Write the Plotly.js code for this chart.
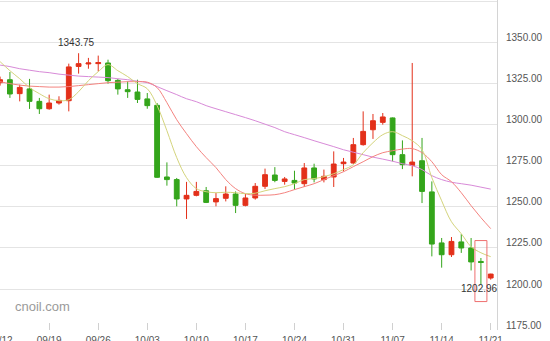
<!DOCTYPE html>
<html>
<head>
<meta charset="utf-8">
<script src="https://cdn.plot.ly/plotly-3.0.1.min.js"></script>
<style>html,body{margin:0;padding:0;background:#fff;}#chart{width:550px;height:341px;}</style>
</head>
<body>
<div id="chart"></div>
<script>
// Trading days (MM/DD)
const dates = ['09/12','09/13','09/14','09/15','09/16','09/19','09/20','09/21','09/22','09/23',
  '09/26','09/27','09/28','09/29','09/30','10/03','10/04','10/05','10/06','10/07',
  '10/10','10/11','10/12','10/13','10/14','10/17','10/18','10/19','10/20','10/21',
  '10/24','10/25','10/26','10/27','10/28','10/31','11/01','11/02','11/03','11/04',
  '11/07','11/08','11/09','11/10','11/11','11/14','11/15','11/16','11/17','11/18','11/21'];
const openP = [1325.8,1327.6,1319.1,1322.0,1314.4,1309.9,1313.4,1314.8,1335.7,1337.2,
  1337.4,1337.8,1327.2,1321.5,1320.1,1315.9,1312.0,1268.3,1266.7,1254.9,
  1257.1,1259.9,1253.1,1255.3,1257.9,1251.0,1255.5,1262.6,1269.5,1265.6,
  1266.2,1264.2,1273.8,1266.7,1268.3,1276.4,1276.8,1288.0,1297.1,1301.6,
  1304.3,1281.9,1275.4,1278.2,1259.2,1228.1,1220.9,1228.7,1225.0,1216.8,1206.7];
const highP = [1329.5,1332.3,1324.6,1328.1,1316.5,1318.5,1317.5,1337.4,1343.75,1340.9,
  1342.3,1339.8,1328.1,1326.6,1327.6,1319.5,1313.4,1277.2,1267.7,1265.3,
  1265.3,1262.2,1258.5,1262.6,1259.5,1257.9,1264.6,1273.4,1274.3,1268.3,
  1272.1,1276.8,1276.4,1272.8,1283.9,1279.9,1292.1,1308.3,1306.7,1307.3,
  1304.6,1290.6,1337.8,1292.1,1265.6,1231.1,1231.7,1233.5,1231.1,1218.9,1209.3];
const lowP = [1324.0,1316.5,1314.4,1309.8,1306.7,1309.3,1312.4,1308.3,1331.3,1334.3,
  1332.7,1325.2,1318.5,1316.5,1313.4,1309.9,1267.7,1263.0,1250.4,1242.7,
  1256.5,1252.4,1250.4,1253.4,1246.3,1250.4,1254.5,1261.0,1265.1,1263.6,
  1260.6,1262.2,1265.0,1265.0,1262.2,1271.7,1276.4,1287.4,1291.5,1300.2,
  1277.8,1273.1,1268.7,1252.4,1219.9,1213.0,1219.5,1222.0,1211.3,1202.96,1205.7];
const closeP = [1327.6,1318.9,1322.9,1314.4,1309.9,1313.4,1315.0,1335.4,1337.4,1337.8,
  1338.0,1327.0,1322.0,1320.3,1315.6,1311.8,1268.1,1266.7,1254.9,1257.1,
  1259.5,1252.8,1255.1,1257.9,1251.0,1255.5,1262.6,1269.7,1266.2,1267.1,
  1264.6,1273.8,1267.1,1268.7,1276.2,1277.4,1288.0,1296.1,1302.6,1304.9,
  1281.9,1275.8,1277.4,1259.5,1227.4,1220.9,1229.0,1225.0,1216.5,1216.2,1209.1];
// Moving averages
const ma5 = [1338.6,1333.1,1328.2,1322.8,1319.1,1316.0,1314.8,1315.4,1320.3,1327.0,
  1332.5,1336.8,1333.1,1329.5,1325.2,1322.1,1311.8,1296.5,1280.1,1267.9,
  1261.2,1259.3,1258.7,1259.0,1258.7,1258.1,1258.4,1259.9,1261.2,1262.4,
  1264.2,1266.7,1267.3,1268.5,1270.3,1272.8,1275.8,1283.1,1289.2,1294.1,
  1295.9,1293.5,1290.4,1284.9,1267.9,1253.8,1241.0,1233.7,1225.8,1222.1,1219.7];
const ma10 = [1326.4,1325.2,1324.3,1323.7,1323.4,1323.1,1323.1,1323.4,1324.0,1324.6,
  1325.2,1325.8,1326.1,1326.4,1326.4,1326.1,1322.8,1313.6,1303.2,1294.7,
  1286.8,1280.1,1274.0,1266.7,1261.2,1258.1,1257.2,1257.2,1257.5,1258.7,
  1260.6,1262.4,1264.2,1266.7,1269.1,1271.5,1274.6,1277.6,1280.7,1283.1,
  1284.3,1285.3,1285.6,1283.1,1277.6,1269.7,1265.4,1258.7,1250.8,1243.5,1236.8];
const ma20 = [1336.5,1335.6,1334.3,1333.4,1332.5,1331.9,1331.0,1330.4,1329.8,1329.5,
  1329.2,1328.9,1328.2,1327.6,1326.7,1325.8,1323.4,1320.9,1318.5,1316.0,
  1314.2,1311.8,1309.9,1308.1,1306.3,1304.5,1302.6,1300.5,1298.4,1295.9,
  1294.1,1292.3,1290.4,1288.6,1286.8,1284.9,1283.4,1281.9,1280.4,1279.2,
  1277.9,1276.4,1275.2,1272.8,1269.1,1266.7,1265.1,1264.2,1263.3,1262.1,1260.9];
const tickDates = ['09/12','09/19','09/26','10/03','10/10','10/17','10/24','10/31','11/07','11/14','11/21'];
const yTicks = [1175,1200,1225,1250,1275,1300,1325,1350,1375];
const yTickText = ['1175.00','1200.00','1225.00','1250.00','1275.00','1300.00','1325.00','1350.00',''];

const RED = '#e3301a', GREEN = '#34a51b';
const lblFont = {family:'Liberation Sans, Arial, sans-serif', size:10, color:'#555'};

const iMax = highP.indexOf(Math.max(...highP));
const iMin = lowP.indexOf(Math.min(...lowP));

const traces = [
  {type:'candlestick', x:dates, open:openP, high:highP, low:lowP, close:closeP,
   increasing:{line:{color:RED, width:1}, fillcolor:RED},
   decreasing:{line:{color:GREEN, width:1}, fillcolor:GREEN},
   hoverinfo:'none', showlegend:false},
  {type:'scatter', mode:'lines', x:dates, y:ma20, line:{color:'#d88ad8', width:1, shape:'spline'}, hoverinfo:'none'},
  {type:'scatter', mode:'lines', x:dates, y:ma10, line:{color:'#f4837f', width:1, shape:'spline'}, hoverinfo:'none'},
  {type:'scatter', mode:'lines', x:dates, y:ma5, line:{color:'#d4d47c', width:1, shape:'spline'}, hoverinfo:'none'}
];

const layout = {
  width:550, height:341,
  margin:{l:0, r:53, t:0, b:11, pad:0},
  paper_bgcolor:'#fff', plot_bgcolor:'#fff',
  showlegend:false,
  xaxis:{type:'category', range:[-0.01, 50.64], tickvals:tickDates, ticktext:tickDates,
    ticks:'inside', ticklen:7, tickcolor:'#d0d0d0', showgrid:false, showline:false, zeroline:false,
    ticklabelstandoff:3, tickfont:lblFont, rangeslider:{visible:false}, fixedrange:true},
  yaxis:{side:'right', range:[1175, 1376.2], tickvals:yTicks, ticktext:yTickText,
    showgrid:true, gridcolor:'#e4e4e4', gridwidth:1, showline:true, linecolor:'#d4d4d4',
    ticks:'', zeroline:false, ticklabelshift:-5, ticklabelstandoff:6, tickfont:lblFont, fixedrange:true},
  annotations:[
    {xref:'paper', yref:'paper', x:12.7/497, y:0.071, xanchor:'left', yanchor:'middle', showarrow:false,
     text:'cnoil.com', font:{family:'Liberation Sans, Arial, sans-serif', size:13, color:'#9a9a9a'}},
    {x:dates[iMax], y:highP[iMax], xanchor:'center', yanchor:'bottom', showarrow:false, xshift:-2, yshift:3,
     text:highP[iMax].toFixed(2), font:{family:'Liberation Sans, Arial, sans-serif', size:10, color:'#333'}},
    {x:dates[iMin], y:lowP[iMin], xanchor:'center', yanchor:'middle', showarrow:false, xshift:-1, yshift:-4,
     text:lowP[iMin].toFixed(2), font:{family:'Liberation Sans, Arial, sans-serif', size:10, color:'#333'}}
  ],
  shapes:[
    {type:'rect', xref:'x', yref:'y', xsizemode:'pixel', ysizemode:'pixel',
     xanchor:iMin, yanchor:(highP[iMin]+lowP[iMin])/2, x0:-6, x1:6, y0:-30.5, y1:30.5,
     line:{color:'#ee6f6f', width:1}, fillcolor:'rgba(0,0,0,0)'}
  ]
};

Plotly.newPlot('chart', traces, layout, {displayModeBar:false, staticPlot:true});
</script>
</body>
</html>
